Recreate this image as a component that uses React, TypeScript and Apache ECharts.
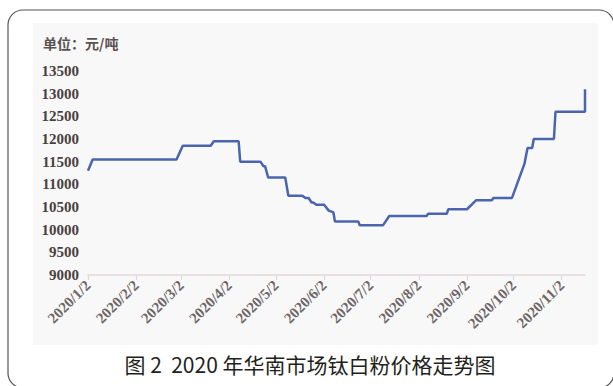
import React, { useEffect, useRef } from "react";
import * as echarts from "echarts";

// Price points (date "MM-DD" of 2020, price in 元/吨)
const dates: string[] = [
  "01-02", "01-05", "02-28", "03-03", "03-21", "03-23", "04-08", "04-09",
  "04-22", "04-24", "04-25", "04-27", "05-08", "05-10", "05-19", "05-21",
  "05-23", "05-25", "05-26", "05-28", "06-02", "06-05", "06-08", "06-09",
  "06-24", "06-25", "07-10", "07-14", "08-07", "08-08", "08-20", "08-21",
  "09-02", "09-08", "09-18", "09-19", "10-01", "10-09", "10-11", "10-14",
  "10-15", "10-28", "10-29", "11-17", "11-17",
];
const prices: number[] = [
  11300, 11550, 11550, 11850, 11850, 11950, 11950, 11500,
  11500, 11400, 11400, 11150, 11150, 10750, 10750, 10700,
  10700, 10600, 10600, 10550, 10550, 10420, 10380, 10180,
  10180, 10100, 10100, 10300, 10300, 10350, 10350, 10450,
  10450, 10650, 10650, 10700, 10700, 11450, 11800, 11800,
  12000, 12000, 12600, 12600, 13100,
];
// x-axis tick labels (2nd day of each month)
const tickDates: string[] = [
  "01-02", "02-02", "03-02", "04-02", "05-02", "06-02",
  "07-02", "08-02", "09-02", "10-02", "11-02",
];
const axisStart = "01-02";
const axisEnd = "11-17";
const yMin = 9000;
const yMax = 13500;
const yStep = 500;
const unitText = "单位：元/吨";
const caption = "图 2  2020 年华南市场钛白粉价格走势图";

const DAY = 86400000;
// day number in 2020 (UTC based, so no DST issues)
const dayNum = (md: string) => {
  const [m, d] = md.split("-").map(Number);
  return Math.round(Date.UTC(2020, m - 1, d) / DAY);
};

const SERIF = "Times New Roman";

export default function App() {
  const ref = useRef<HTMLDivElement>(null);
  useEffect(() => {
    if (!ref.current) return;
    const chart = echarts.init(ref.current, null, { renderer: "svg" });
    const tickVals = tickDates.map(dayNum);
    chart.setOption({
      animation: false,
      backgroundColor: "#ffffff",
      textStyle: { fontFamily: SERIF },
      grid: { left: 88, right: 28, top: 71, bottom: 111, containLabel: false },
      xAxis: {
        type: "value",
        min: dayNum(axisStart),
        max: dayNum(axisEnd),
        axisLine: { show: true, lineStyle: { color: "#e3d9d9", width: 1.5 } },
        axisTick: {
          show: true,
          length: 5,
          customValues: tickVals,
          lineStyle: { color: "#e3d9d9", width: 1.2 },
        },
        splitLine: { show: false },
        axisLabel: {
          customValues: tickVals,
          rotate: 45,
          margin: 8,
          hideOverlap: false,
          fontSize: 15,
          fontWeight: "bold",
          fontFamily: SERIF,
          color: "#6e6666",
          formatter: (v: number) => {
            const d = new Date(v * DAY);
            return `2020/${d.getUTCMonth() + 1}/${d.getUTCDate()}`;
          },
        },
      },
      yAxis: {
        type: "value",
        min: yMin,
        max: yMax,
        interval: yStep,
        axisLine: { show: false },
        axisTick: { show: false },
        splitLine: { show: false },
        axisLabel: {
          margin: 9,
          fontSize: 15,
          fontFamily: SERIF,
          fontWeight: "bold",
          color: "#4a4040",
          formatter: (v: number) => String(v),
        },
      },
      series: [
        {
          type: "line",
          data: dates.map((d, i) => [dayNum(d), prices[i]]),
          showSymbol: false,
          symbol: "none",
          lineStyle: { color: "#4a65ad", width: 2.5 },
        },
      ],
      graphic: [
        {
          type: "rect",
          z: -10,
          silent: true,
          shape: { x: 33, y: 23, width: 565, height: 322 },
          style: { fill: "#f8f8f8" },
        },
        {
          type: "rect",
          z: -5,
          silent: true,
          shape: { x: 8, y: 10, width: 606, height: 378, r: 15 },
          style: { fill: "none", stroke: "#555555", lineWidth: 1.2 },
        },
        {
          type: "text",
          x: 43,
          y: 43,
          style: {
            text: unitText,
            fontSize: 14,
            fontFamily: "Noto Sans CJK SC",
            fontWeight: "bold",
            fill: "#5a5252",
            verticalAlign: "middle",
            align: "left",
          },
        },
        {
          type: "text",
          x: 310,
          y: 364,
          style: {
            text: caption,
            fontSize: 21,
            fontFamily: "Noto Sans CJK SC",
            fill: "#231f20",
            align: "center",
            verticalAlign: "middle",
          },
        },
      ],
    });
    return () => chart.dispose();
  }, []);
  return (
    <div
      ref={ref}
      style={{ position: "absolute", left: 0, top: 0, width: 613, height: 386 }}
    />
  );
}
